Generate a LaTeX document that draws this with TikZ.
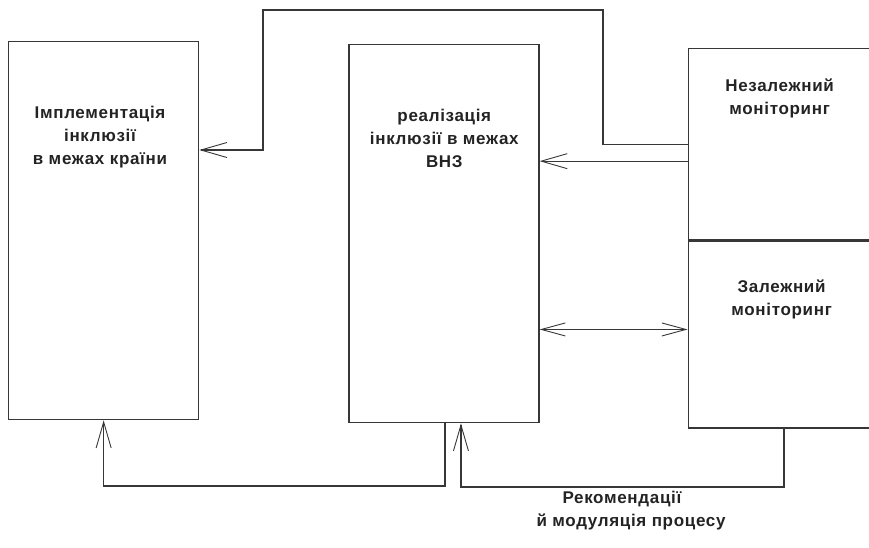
\documentclass[tikz,border=0pt]{standalone}
\usepackage{fontspec}
\usepackage{xcolor}
\usepackage{tikz}
\usetikzlibrary{positioning,arrows.meta,calc}
\newfontfamily\boxfont[LetterSpace=4]{Liberation Sans}
\definecolor{lgray}{RGB}{55,55,55}
\definecolor{tgray}{RGB}{35,35,35}
\tikzset{
	every node/.style = { align = center },
	blk/.style = { draw=lgray, line width=1.3pt, inner sep=0pt, minimum width=190pt, minimum height=378pt, anchor=north west },
	mon/.style = { blk, minimum width=200pt },
	txt/.style = { font=\boxfont\bfseries\fontsize{17}{23}\selectfont, text=tgray },
	con/.style = { draw=lgray, line width=1.3pt },
	arr/.style = { con, -{Straight Barb[length=26pt,width=15pt,line width=0.9pt]} },
	darr/.style = { con, {Straight Barb[length=24pt,width=13pt,line width=0.9pt]}-{Straight Barb[length=24pt,width=13pt,line width=0.9pt]} },
}

\begin{document}
\begin{tikzpicture}[x=1pt,y=-1pt]
\useasboundingbox (0,0) rectangle (869,547);
\clip (0,0) rectangle (869,547);

\node (impl)  [blk] at (8,41) {};
\node (real)  [blk,right=149pt of impl.north east,anchor=north west,yshift=-3pt] {};
\node (indep) [mon,minimum height=191pt,right=148pt of real.north east,anchor=north west,yshift=-4pt] {};
\node (dep)   [mon,minimum height=187pt,below=0pt of indep.south west,anchor=north west] {};

\node (implt)  [txt] at ($(impl.north west)+(92,96)$)  {Імплементація \\ інклюзії \\ в межах країни};
\node (realt)  [txt] at ($(real.north west)+(96,94)$)  {реалізація \\ інклюзії в межах \\ ВНЗ};
\node (indept) [txt] at ($(indep.north west)+(92,50)$) {Незалежний \\ моніторинг};
\node (dept)   [txt] at ($(dep.north west)+(94,59)$)   {Залежний \\ моніторинг};

% top loop to the left box
\coordinate (tp1) at (603,10);
\coordinate (tp2) at (263,10);
\coordinate (tp3) at (263,150);
\draw[arr] (indep.west) -| (tp1) -- (tp2) -- (tp3) -- (tp3-|impl.east);

\coordinate (m1) at ([yshift=-17pt]indep.west);
\draw[arr] (m1) -- (m1-|real.east);

\coordinate (m2) at ([yshift=5pt]dep.west);
\draw[darr] (m2-|real.east) -- (m2);

% bottom returns
\coordinate (b1) at (445,486);
\draw[arr] (b1|-real.south) -- (b1) -| (impl.south);
\coordinate (b2) at (784,487);
\draw[arr] (b2|-dep.south) -- (b2) -| ([xshift=17pt]real.south);

\node (rec) [txt,align=left,anchor=west] at (533,511) {\hspace*{26pt}Рекомендації \\ й модуляція процесу};
\end{tikzpicture}
\end{document}
